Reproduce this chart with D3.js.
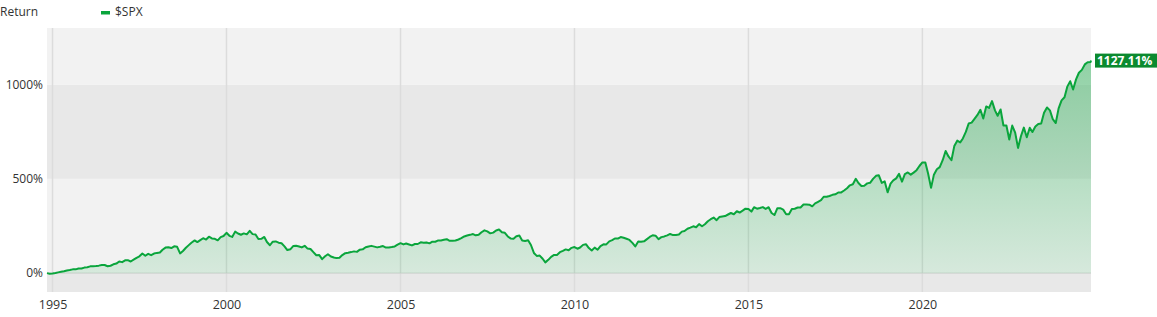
<!DOCTYPE html>
<html lang="en">
<head>
  <meta charset="UTF-8">
  <title>$SPX Return</title>
  <script src="https://d3js.org/d3.v7.min.js"></script>
  <style>
    body { margin: 0; background: #fff; }
    text { font-family: "Open Sans", "Noto Sans", sans-serif; fill: #333; }
    .tick line { display: none; }
    .domain { display: none; }
  </style>
</head>
<body>
  <svg id="chart" width="1157" height="317"></svg>

  <script>
    // Cumulative return of $SPX in %, monthly closes (first point = start of series, last = latest)
    const returns1990s = [
      0, -3.1, -1.9,
      0.5, 4.1, 7.0, 10.0, 14.0, 16.4, 20.1, 20.1, 24.9, 24.3, 29.4, 31.6,
      35.9, 36.8, 37.9, 39.8, 43.0, 43.3, 36.7, 39.3, 46.9, 50.7, 61.8, 58.3,
      68.0, 69.0, 61.8, 71.2, 81.3, 89.1, 103.9, 92.2, 102.4, 95.4, 104.1, 107.4,
      109.5, 124.2, 135.4, 137.6, 133.1, 142.3, 139.5, 104.5, 117.3, 134.8, 148.6, 162.7,
      173.4, 164.6, 174.9, 185.3, 178.2, 193.3, 183.9, 182.1, 174.1, 191.2, 196.8, 213.9
    ];
    const returns2000s = [
      198.0, 192.0, 220.2, 210.3, 203.5, 210.8, 205.7, 224.3, 206.9, 205.4, 181.0, 182.1,
      191.9, 164.9, 147.9, 167.0, 168.3, 161.6, 158.8, 142.2, 122.4, 126.4, 143.5, 145.3,
      141.5, 136.5, 145.2, 130.1, 128.0, 111.5, 94.8, 95.7, 74.2, 89.3, 100.1, 88.0,
      82.8, 79.7, 81.2, 95.9, 105.9, 108.2, 111.6, 115.4, 112.8, 124.5, 126.1, 137.6,
      141.7, 144.6, 140.6, 136.6, 139.5, 143.8, 135.4, 135.9, 138.2, 141.5, 150.8, 159.0,
      152.4, 157.2, 152.3, 147.2, 154.6, 154.6, 163.7, 160.8, 162.6, 157.9, 167.0, 166.7,
      173.5, 173.6, 176.7, 180.0, 171.4, 171.4, 172.8, 178.6, 185.4, 194.4, 199.3, 203.1,
      207.3, 200.6, 203.6, 216.7, 227.1, 221.2, 211.0, 215.0, 226.2, 231.1, 216.5, 213.8,
      194.6, 184.3, 182.6, 196.1, 199.2, 173.5, 170.8, 174.1, 149.2, 107.0, 91.5, 93.0,
      76.5, 57.1, 70.5, 86.5, 96.4, 96.4, 111.0, 118.1, 125.9, 121.4, 134.1, 138.3
    ];
    const returns2010s = [
      129.5, 136.0, 149.9, 153.6, 132.8, 120.2, 135.4, 124.2, 143.8, 152.8, 152.3, 168.7,
      174.8, 183.6, 183.3, 191.4, 187.4, 182.2, 176.1, 160.4, 141.8, 167.8, 166.4, 168.7,
      180.4, 191.8, 201.0, 198.7, 180.0, 191.1, 194.7, 200.5, 207.8, 201.7, 202.6, 204.7,
      220.1, 223.6, 235.3, 241.4, 248.4, 243.2, 260.2, 248.9, 259.3, 275.3, 285.9, 294.9,
      280.9, 297.3, 300.1, 302.6, 311.0, 318.9, 312.5, 328.1, 321.4, 331.2, 341.8, 339.9,
      326.3, 349.7, 341.9, 345.6, 350.3, 340.8, 349.5, 319.0, 308.0, 344.3, 344.5, 336.7,
      312.0, 312.9, 340.1, 341.3, 348.1, 348.5, 364.4, 363.9, 363.3, 354.3, 369.8, 378.4,
      386.9, 405.1, 404.9, 409.4, 415.3, 417.8, 427.8, 428.1, 438.3, 450.3, 465.7, 471.3,
      500.4, 477.9, 462.3, 463.8, 476.0, 478.8, 499.8, 516.0, 518.6, 478.4, 486.8, 428.6,
      474.8, 492.0, 502.6, 526.5, 485.0, 525.6, 533.8, 522.3, 533.1, 546.1, 568.2, 587.3
    ];
    const returns2020s = [
      586.2, 528.2, 452.3, 522.3, 550.5, 562.4, 599.0, 647.9, 618.6, 598.7, 673.8, 702.6,
      693.6, 714.3, 748.9, 793.4, 798.3, 818.3, 839.2, 866.4, 820.4, 884.1, 875.9, 912.4,
      862.9, 834.6, 868.0, 782.9, 782.9, 708.8, 782.5, 745.1, 664.2, 727.4, 771.8, 720.4,
      771.1, 748.3, 778.1, 790.9, 793.1, 850.9, 878.6, 863.2, 816.3, 796.1, 874.0, 916.2,
      932.4, 989.0, 1017.7, 974.0, 1027.7, 1062.8, 1078.0, 1106.9, 1118.3, 1119.1,
      1127.11
    ];
    const returns = [...returns1990s, ...returns2000s, ...returns2010s, ...returns2020s];

    const seriesName = "$SPX";
    const yTitle = "Return";
    const yTicks = [0, 500, 1000];
    const bandEdges = [-100, 0, 500, 1000, 1300];
    const xTickYears = [1995, 2000, 2005, 2010, 2015, 2020];
    const startDate = new Date(Date.UTC(1994, 10, 4));
    const endDate = new Date(Date.UTC(2024, 10, 5));

    // month-end closes are placed at the 1st of the following month
    const data = returns.map((v, i) => {
      let date;
      if (i === 0) date = startDate;
      else if (i === returns.length - 1) date = endDate;
      else date = new Date(Date.UTC(1994, 10 + i, 1));
      return { date, value: v };
    });

    const width = 1157, height = 317;
    const margin = { top: 28, right: 66, bottom: 25, left: 47 };
    const green = "#0aa53c";

    const svg = d3.select("#chart");

    const x = d3.scaleUtc()
      .domain([startDate, endDate])
      .range([margin.left, width - margin.right]);

    const y = d3.scaleLinear()
      .domain([bandEdges[0], bandEdges[bandEdges.length - 1]])
      .range([height - margin.bottom, margin.top]);

    // alternating background bands
    svg.append("g")
      .selectAll("rect")
      .data(d3.pairs(bandEdges))
      .join("rect")
      .attr("x", margin.left)
      .attr("width", width - margin.right - margin.left)
      .attr("y", d => y(d[1]))
      .attr("height", d => y(d[0]) - y(d[1]))
      .attr("fill", (d, i) => i % 2 === 0 ? "#e8e8e8" : "#f2f2f2");

    // vertical year grid
    const yearDates = xTickYears.map(yr => new Date(Date.UTC(yr, 0, 1)));
    svg.append("g")
      .selectAll("line")
      .data(yearDates)
      .join("line")
      .attr("x1", d => x(d)).attr("x2", d => x(d))
      .attr("y1", margin.top).attr("y2", height - margin.bottom)
      .attr("stroke", "#dcdcdc")
      .attr("stroke-width", 1.5);

    // zero line
    svg.append("line")
      .attr("x1", margin.left).attr("x2", width - margin.right)
      .attr("y1", y(0)).attr("y2", y(0))
      .attr("stroke", "#d2d2d2");

    // area gradient
    const grad = svg.append("defs").append("linearGradient")
      .attr("id", "areaFill")
      .attr("gradientUnits", "userSpaceOnUse")
      .attr("x1", 0).attr("x2", 0)
      .attr("y1", y(d3.max(returns))).attr("y2", y(0));
    grad.append("stop").attr("offset", "0%").attr("stop-color", green).attr("stop-opacity", 0.42);
    grad.append("stop").attr("offset", "100%").attr("stop-color", green).attr("stop-opacity", 0.12);

    const area = d3.area()
      .x(d => x(d.date))
      .y0(y(0))
      .y1(d => y(d.value));

    const line = d3.line()
      .x(d => x(d.date))
      .y(d => y(d.value));

    svg.append("path")
      .datum(data)
      .attr("fill", "url(#areaFill)")
      .attr("d", area);

    svg.append("path")
      .datum(data)
      .attr("fill", "none")
      .attr("stroke", green)
      .attr("stroke-width", 2)
      .attr("stroke-linejoin", "round")
      .attr("d", line);

    // axes
    svg.append("g")
      .attr("transform", `translate(${margin.left},0)`)
      .call(d3.axisLeft(y).tickValues(yTicks).tickFormat(d => d + "%").tickSize(0).tickPadding(4))
      .selectAll("text")
      .style("font-size", "12px")
      .style("fill", "#333");

    svg.append("g")
      .attr("transform", `translate(0,${height - margin.bottom})`)
      .call(d3.axisBottom(x).tickValues(yearDates).tickFormat(d3.utcFormat("%Y")).tickSize(0).tickPadding(8))
      .selectAll("text")
      .style("font-size", "12.5px")
      .style("fill", "#333");

    // legend
    svg.append("text")
      .attr("x", 0).attr("y", 16)
      .style("font-size", "12px")
      .text(yTitle);
    svg.append("rect")
      .attr("x", 101).attr("y", 11)
      .attr("width", 9).attr("height", 3.5)
      .attr("fill", green);
    svg.append("text")
      .attr("x", 115).attr("y", 16)
      .style("font-size", "12px")
      .text(seriesName);

    // last value label
    const last = data[data.length - 1];
    const lab = svg.append("g")
      .attr("transform", `translate(${x(last.date) + 4},${y(last.value)})`);
    lab.append("rect")
      .attr("x", 0).attr("y", -7)
      .attr("width", 64).attr("height", 14)
      .attr("fill", "#0b8a2f");
    lab.append("text")
      .attr("x", 2).attr("y", 4.5)
      .style("font-size", "12px")
      .style("font-weight", "bold")
      .style("fill", "#fff")
      .text(last.value.toFixed(2) + "%");
  </script>
</body>
</html>
